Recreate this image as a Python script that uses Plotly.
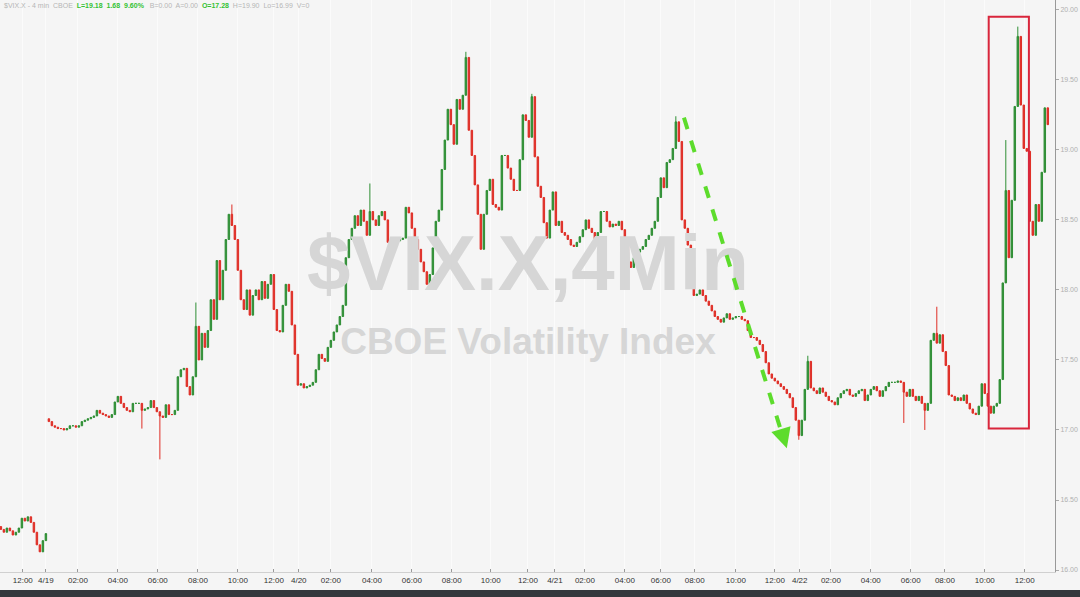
import plotly.graph_objects as go

# closing prices, one 4-min-ish bar per entry, by trading day
apr16 = [16.29, 16.27, 16.30, 16.28, 16.25, 16.27, 16.30, 16.37, 16.35, 16.38,
         16.34, 16.27, 16.18, 16.13, 16.21, 16.26]

apr19 = [17.06, 17.03, 17.02, 17.01, 17.01, 17.00, 17.01, 17.03, 17.03, 17.02,
         17.03, 17.06, 17.07, 17.08, 17.09, 17.10, 17.14, 17.12, 17.11, 17.10,
         17.09, 17.11, 17.20, 17.24, 17.19, 17.16, 17.14, 17.13, 17.19, 17.19,
         17.19, 17.14, 17.15, 17.16, 17.21, 17.16, 17.13, 17.10, 17.09, 17.18,
         17.11, 17.11, 17.14, 17.38, 17.43, 17.44, 17.31, 17.25, 17.38, 17.74,
         17.50, 17.69, 17.59, 17.71, 17.93, 17.79, 18.21, 17.93, 18.14, 18.36,
         18.54, 18.46, 18.36, 18.14, 17.93, 17.86, 18.00, 17.82, 17.96, 18.00,
         17.93, 18.06, 17.94, 18.04, 18.11, 17.86, 17.71, 17.70, 17.89, 18.04,
         17.99, 17.75, 17.54, 17.32]

apr20 = [17.33, 17.30, 17.31, 17.32, 17.34, 17.43, 17.54, 17.51, 17.49, 17.59,
         17.64, 17.70, 17.75, 17.81, 17.89, 18.23, 18.36, 18.44, 18.53, 18.46,
         18.57, 18.49, 18.39, 18.56, 18.50, 18.46, 18.53, 18.56, 18.50, 18.34,
         18.29, 18.33, 18.35, 18.36, 18.37, 18.59, 18.55, 18.44, 18.36, 18.29,
         18.20, 18.13, 18.04, 18.11, 18.30, 18.49, 18.57, 18.86, 19.07, 19.29,
         19.18, 19.04, 19.36, 19.29, 19.39, 19.66, 19.14, 18.96, 18.75, 18.54,
         18.29, 18.54, 18.71, 18.79, 18.61, 18.59, 18.57, 18.96, 18.96, 18.87,
         18.79, 18.71, 18.71, 18.93, 19.25, 19.21, 19.09, 19.38, 18.95, 18.74,
         18.66, 18.48, 18.37, 18.57, 18.70]

apr21 = [18.46, 18.49, 18.41, 18.39, 18.36, 18.32, 18.31, 18.34, 18.38, 18.43,
         18.50, 18.44, 18.41, 18.36, 18.41, 18.56, 18.56, 18.49, 18.45, 18.47,
         18.46, 18.49, 18.43, 18.37, 18.20, 18.16, 18.23, 18.27, 18.29, 18.31,
         18.36, 18.39, 18.44, 18.49, 18.66, 18.80, 18.73, 18.91, 18.93, 19.01,
         19.20, 19.06, 18.50, 18.44, 18.32, 18.16, 17.96, 17.97, 18.00, 17.96,
         17.92, 17.89, 17.85, 17.81, 17.79, 17.77, 17.80, 17.83, 17.79, 17.80,
         17.81, 17.81, 17.79, 17.78, 17.71, 17.66, 17.66, 17.64, 17.61, 17.56,
         17.48, 17.40, 17.37, 17.35, 17.33, 17.31, 17.29, 17.26, 17.23, 17.16,
         17.07, 16.96]

apr22 = [17.07, 17.29, 17.49, 17.30, 17.28, 17.26, 17.30, 17.27, 17.24, 17.21,
         17.20, 17.18, 17.23, 17.26, 17.28, 17.29, 17.25, 17.24, 17.26, 17.28,
         17.29, 17.21, 17.25, 17.29, 17.31, 17.28, 17.24, 17.28, 17.31, 17.34,
         17.34, 17.34, 17.35, 17.34, 17.27, 17.24, 17.29, 17.24, 17.21, 17.24,
         17.19, 17.14, 17.19, 17.64, 17.69, 17.62, 17.68, 17.56, 17.46, 17.25,
         17.24, 17.21, 17.23, 17.21, 17.25, 17.19, 17.15, 17.12, 17.11, 17.17,
         17.33, 17.26, 17.17, 17.12, 17.17, 17.19, 17.36, 18.05, 18.71, 18.23,
         18.64, 19.31, 19.81, 19.32, 19.01, 18.99, 18.49, 18.39, 18.61, 18.49,
         18.84, 19.30, 19.18]

days = [("apr16", apr16), ("apr19", apr19), ("apr20", apr20),
        ("apr21", apr21), ("apr22", apr22)]

# opens where the bar does not simply start at the previous close (gaps)
first_open = {"apr16": 16.31, "apr19": 17.08}

# visible wicks (day, bar in day) -> value
wick_high = {("apr19", 49): 17.91, ("apr19", 61): 18.61, ("apr20", 23): 18.76,
             ("apr20", 55): 19.70, ("apr20", 77): 19.40, ("apr21", 40): 19.24,
             ("apr22", 2): 17.53, ("apr22", 45): 17.88, ("apr22", 68): 19.07,
             ("apr22", 72): 19.88}
wick_low = {("apr19", 31): 17.01, ("apr19", 37): 16.79, ("apr21", 81): 16.93,
            ("apr22", 34): 17.05, ("apr22", 41): 17.00}

tick_pos = [7.3, 15, 25.7, 39, 52.3, 65.7, 79, 91, 99.3, 110, 123.7, 137, 150.3,
            163.3, 175.7, 184.7, 194.7, 208, 220, 231.3, 245, 258, 266.3, 276.7,
            290, 303.3, 314.7, 328, 341.3]
tick_text = ["12:00", "4/19", "02:00", "04:00", "06:00", "08:00", "10:00", "12:00",
             "4/20", "02:00", "04:00", "06:00", "08:00", "10:00", "12:00",
             "4/21", "02:00", "04:00", "06:00", "08:00", "10:00", "12:00",
             "4/22", "02:00", "04:00", "06:00", "08:00", "10:00", "12:00"]

o, h, l, c = [], [], [], []
prev = None
for name, closes in days:
    for i, cl in enumerate(closes):
        op = first_open[name] if (i == 0 and name in first_open) else prev
        o.append(op)
        c.append(cl)
        h.append(wick_high.get((name, i), max(op, cl)))
        l.append(wick_low.get((name, i), min(op, cl)))
        prev = cl
x = list(range(len(c)))

fig = go.Figure()

# watermark, drawn first so the candles sit on top of it
fig.add_trace(go.Scatter(
    x=[175.7, 175.7], y=[18.14, 17.61], mode="text",
    text=["$VIX.X,4Min", "CBOE Volatility Index"],
    textfont=dict(family="Liberation Sans, Arial", size=[78, 37],
                  color="#d6d6d6", weight="bold"),
    hoverinfo="skip", showlegend=False,
))
fig.add_trace(go.Candlestick(
    x=x, open=o, high=h, low=l, close=c,
    increasing=dict(line=dict(color="#2f8f35", width=1), fillcolor="#2f8f35"),
    decreasing=dict(line=dict(color="#df2e26", width=1), fillcolor="#df2e26"),
    whiskerwidth=0, showlegend=False,
))

fig.update_layout(
    width=1080, height=597,
    margin=dict(l=0, r=25, t=0, b=25),
    paper_bgcolor="#f5f5f5", plot_bgcolor="#f5f5f5",
    font=dict(family="Liberation Sans, Arial"),
    xaxis=dict(
        range=[-0.3, 351.4], rangeslider=dict(visible=False),
        tickvals=tick_pos, ticktext=tick_text, tickangle=0,
        tickfont=dict(size=8, color="#333333"),
        showgrid=True, gridcolor="#fbfbfb", gridwidth=1,
        ticks="inside", ticklen=3, tickcolor="#999999",
        showline=True, linecolor="#d0d0d0", zeroline=False,
    ),
    yaxis=dict(
        side="right", range=[15.986, 20.07], dtick=0.5, tickformat=".2f",
        tickfont=dict(size=7, color="#b0b0b0"),
        ticks="outside", ticklen=3, tickcolor="#aaaaaa",
        showline=True, linecolor="#999999", linewidth=1,
        showgrid=False, zeroline=False,
    ),
    shapes=[
        # red highlight box around the 4/22 spike
        dict(type="rect", xref="x", yref="y", x0=329.3, x1=342.7, y0=17.01, y1=19.95,
             line=dict(color="#d9263c", width=2)),
        # green dashed arrow shaft
        dict(type="line", xref="x", yref="y", x0=227.7, y0=19.23, x1=261.0, y1=16.93,
             line=dict(color="#5ddc2c", width=4, dash="dash")),
        # dark band at the bottom of the screenshot
        dict(type="rect", xref="paper", yref="paper", x0=0, x1=1.03,
             y0=-0.0315, y1=-0.05, fillcolor="#34383c", line=dict(width=0)),
    ],
    annotations=[
        dict(x=262.0, y=16.87, xref="x", yref="y", ax=-4, ay=-13, text="",
             showarrow=True, arrowhead=2, arrowsize=1, arrowwidth=4,
             arrowcolor="#5ddc2c"),
        dict(x=0.002, y=1.0, xref="paper", yref="paper", xanchor="left", yanchor="top",
             showarrow=False, font=dict(size=7, color="#b5b5b5"),
             text=("$VIX.X - 4 min  CBOE  "
                   "<span style='color:#33c233'><b>L=19.18  1.68  9.60%</b></span>"
                   "   B=0.00  A=0.00  "
                   "<span style='color:#33c233'><b>O=17.28</b></span>"
                   "  H=19.90  Lo=16.99  V=0")),
    ],
)

fig.write_html(
    "out.html",
    config={"displayModeBar": False},
    post_script="document.body.style.margin='0';document.body.style.overflow='hidden';",
)
